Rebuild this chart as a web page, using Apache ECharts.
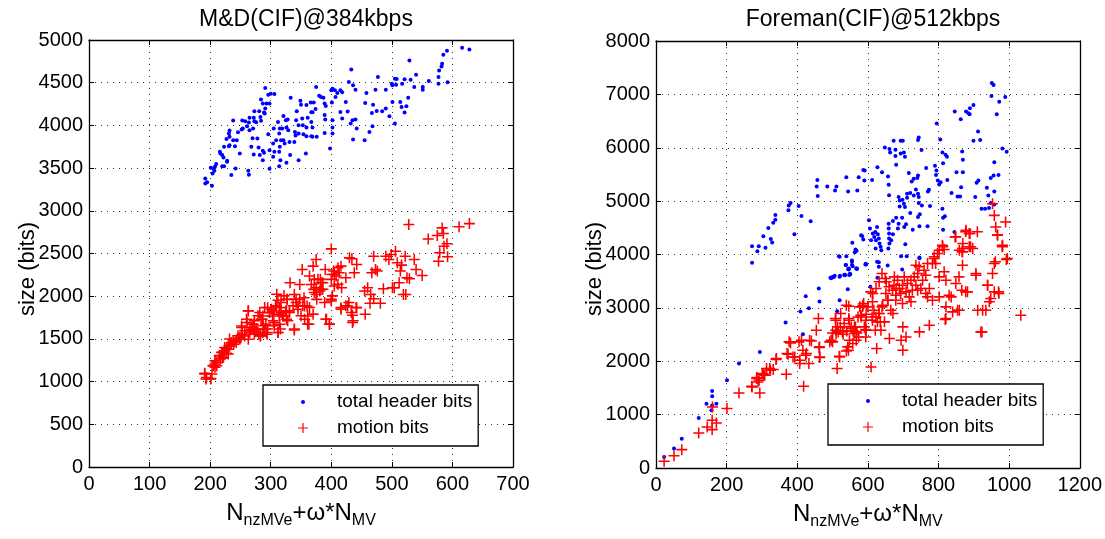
<!DOCTYPE html>
<html><head><meta charset="utf-8">
<script src="https://cdn.jsdelivr.net/npm/echarts@6/dist/echarts.min.js"></script>
<style>html,body{margin:0;padding:0;background:#fff}#c{width:1105px;height:539px}</style>
</head><body><div id="c"></div>
<script>
// ---- Data ----
const titles = ['M&D(CIF)@384kbps', 'Foreman(CIF)@512kbps'];
const seriesNames = ['total header bits', 'motion bits'];
const yLabel = 'size (bits)';
const leftXRange = [0, 700, 100];
const leftYRange = [0, 5000, 500];
const rightXRange = [0, 1200, 200];
const rightYRange = [0, 8000, 1000];

const mdHeader = [[192,3321],[195,3333],[192,3379],[203,3294],[201,3504],[205,3496],[208,3516],[204,3438],[207,3469],[210,3547],
[220,3523],[223,3523],[228,3574],[235,3418],[242,3496],[263,3469],[264,3422],[216,3691],[217,3671],[220,3652],
[222,3625],[228,3586],[223,3749],[231,3757],[232,3769],[241,3757],[249,3671],[227,3842],[232,3866],[231,3905],
[232,3940],[238,3827],[244,3827],[246,3920],[252,3951],[254,3963],[238,4056],[253,4056],[258,4049],[261,3990],
[264,4033],[265,4091],[265,3944],[270,3850],[271,3963],[273,4049],[272,4091],[276,4037],[284,4053],[283,4099],
[281,4165],[273,4165],[284,4302],[287,4255],[291,4197],[289,4150],[291,4438],[296,4360],[300,4372],[306,4368],
[293,4255],[298,4255],[290,4138],[278,3846],[268,3749],[280,3741],[272,3660],[282,3652],[287,3702],[289,3679],
[287,3593],[298,3492],[296,3897],[305,3963],[312,4041],[315,3963],[314,3905],[319,3963],[321,4111],[325,4060],
[326,3975],[328,4068],[329,3944],[309,3827],[304,3788],[306,3691],[317,3827],[321,3827],[323,3788],[314,3691],
[316,3593],[314,3523],[326,3562],[332,3652],[333,4325],[343,4165],[349,4290],[350,4243],[359,4239],[366,4267],
[371,4267],[375,4449],[367,4154],[369,4154],[374,4193],[380,4348],[383,4333],[387,4325],[389,4255],[391,4228],
[389,4123],[390,4068],[400,4411],[402,4430],[406,4411],[410,4380],[415,4411],[418,4387],[401,4267],[407,4333],
[342,4060],[352,4080],[361,4091],[367,4041],[359,3975],[369,3975],[346,4002],[353,4002],[340,3924],[341,3881],
[346,3905],[354,3897],[359,3874],[367,3874],[369,3866],[376,3866],[389,3912],[339,3807],[346,3593],[358,3671],
[331,3807],[398,3730],[402,3975],[402,3905],[402,4060],[415,4158],[418,4080],[424,4274],[427,4162],[429,4508],
[433,4656],[436,4469],[440,4418],[432,4021],[435,4060],[440,4068],[442,3963],[436,3835],[455,3827],[463,3924],
[468,3990],[467,4146],[469,4243],[456,4263],[458,4380],[473,4418],[477,4566],[475,4169],[484,4165],[490,4197],
[496,4107],[505,4021],[490,4418],[500,4488],[505,4547],[508,4543],[501,4469],[507,4477],[517,4488],[521,4539],
[529,4761],[531,4535],[540,4593],[537,4449],[551,4449],[551,4418],[561,4520],[577,4488],[577,4566],[578,4644],
[582,4691],[583,4722],[585,4827],[591,4874],[592,4504],[501,4274],[514,4274],[516,4216],[524,4224],[527,4325],
[521,4150],[616,4909],[628,4889],[298,3710],[304,3632],[315,3749]];

const mdMotion = [[191,1099],[194,1049],[201,1037],[203,1088],[205,1185],[208,1205],[211,1185],[208,1243],[216,1302],[220,1274],
[221,1341],[227,1333],[230,1380],[224,1399],[232,1418],[235,1457],[239,1438],[243,1477],[249,1516],[252,1543],
[257,1535],[263,1496],[265,1574],[268,1613],[271,1632],[274,1593],[277,1613],[280,1555],[283,1535],[287,1574],
[290,1613],[292,1671],[294,1555],[263,1827],[260,1730],[252,1652],[284,1730],[287,1769],[295,1866],[298,1808],
[303,1769],[305,1827],[309,1885],[312,1952],[315,1866],[317,1808],[321,1769],[325,1827],[327,1963],[315,1671],
[312,1574],[305,1691],[326,1730],[331,1827],[332,2158],[339,2021],[339,1605],[342,1963],[345,1885],[348,2138],
[352,2313],[355,1983],[356,1885],[360,1885],[361,1769],[363,1671],[364,2236],[367,2138],[370,2352],[371,2080],
[372,2197],[375,2430],[375,2021],[376,1963],[382,2197],[383,2080],[386,2158],[390,2313],[391,1730],[397,1671],
[400,2554],[400,2197],[400,1963],[401,2255],[404,2294],[405,2119],[408,2236],[411,2333],[413,2275],[416,2352],
[417,2099],[416,1866],[424,2216],[427,1885],[430,2449],[434,2438],[435,1777],[435,1691],[438,2275],[442,2372],
[442,1866],[455,2060],[456,1788],[460,2099],[464,1917],[465,2021],[467,2275],[470,2469],[473,2313],[476,2294],
[470,1971],[481,1917],[486,2088],[490,2469],[495,2430],[499,2488],[501,2099],[504,2099],[506,2527],[509,2391],
[512,2158],[514,2294],[516,2364],[519,2021],[523,2021],[522,2469],[525,2216],[528,2839],[529,2205],[537,2430],
[540,2313],[550,2243],[560,2671],[575,2710],[577,2410],[579,2508],[583,2800],[585,2734],[586,2585],[591,2613],
[592,2461],[611,2814],[628,2850],
[191,1090],[193,1031],[201,1031],[205,1187],[208,1167],[210,1226],[215,1304],[217,1265],[219,1342],[222,1284],
[224,1362],[227,1381],[230,1323],[231,1420],[232,1498],[235,1440],[238,1479],[243,1459],[246,1537],[249,1498],
[252,1634],[253,1556],[257,1595],[261,1693],[263,1829],[265,1595],[268,1634],[271,1673],[273,1712],[273,1556],
[276,1615],[279,1770],[282,1809],[283,1537],[286,1731],[288,1654],[290,1868],[293,1576],[295,1615],[298,1809],
[301,1848],[304,1712],[306,1654],[308,1887],[310,2023],[312,1576],[314,1790],[316,1615],[317,1926],[320,1770],
[322,2004],[326,1829],[327,1965],[328,1712],[331,1809],[337,1887],[339,1615],[342,1926],[345,1848],[348,1965],
[350,1770],[353,1887],[356,1731],[361,1673],[364,1868],[370,1790],[372,2043],[375,2101],[378,2198],[381,2062],
[383,2160],[386,2082],[389,1926],[392,1731],[397,1673],[400,1945],[402,2004],[405,2257],[411,2140],[416,1848],
[424,1887],[429,1926],[433,1809],[436,1712],[441,1868]];

const foreHeader = [[272,3845],[272,4156],[287,4063],[291,4156],[304,4342],[310,4125],[318,4497],[325,4292],[329,4224],[332,4597],
[338,4653],[338,4740],[375,4827],[376,4920],[381,4963],[392,4379],[404,4907],[412,4721],[438,4622],[457,5398],
[455,5274],[458,5094],[485,5274],[507,5199],[511,5274],[539,5448],[544,5181],[570,5199],[574,5448],[587,5584],
[591,5572],[590,5385],[612,5398],[627,5634],[640,5541],[648,6006],[657,5460],[659,5305],[660,5112],[661,5975],
[663,5913],[673,6131],[678,5963],[678,5845],[680,5683],[693,6131],[699,6131],[702,5913],[705,5833],[693,5894],
[687,5075],[690,4901],[690,5013],[698,5025],[702,4951],[705,4889],[711,5063],[711,5137],[720,5150],[730,5106],
[736,5218],[742,5137],[744,5075],[744,4963],[747,4752],[753,4920],[716,5528],[724,5367],[730,5417],[740,5435],
[742,5479],[752,5957],[742,6143],[744,6193],[765,5621],[770,5181],[773,5212],[776,4907],[790,5665],[794,5572],
[793,5491],[795,6454],[798,5385],[802,5311],[806,5355],[811,5913],[813,5708],[820,5870],[824,5833],[825,5398],
[805,6156],[811,4858],[813,4690],[818,4715],[837,5150],[846,6677],[851,5541],[854,5087],[863,6534],[861,5087],
[864,5261],[867,5932],[869,5777],[869,5541],[878,6677],[885,6646],[888,6628],[889,6739],[899,6801],[899,6131],
[912,6305],[918,6143],[904,5075],[908,5342],[913,5385],[922,4858],[932,4858],[937,5249],[941,5106],[948,5435],
[951,7211],[956,7174],[950,6969],[956,5479],[958,5727],[958,5181],[965,6628],[970,5491],[972,6863],[981,5988],
[989,6950],[993,5926],[948,4963],[958,4938],[943,4870],
[581,4361],[587,4280],[584,4342],[603,4640],[606,4485],[614,4392],[618,4330],[621,4423],[623,4268],[626,4516],
[628,4379],[631,4299],[633,4205],[636,4143],[638,4081],[622,4112],[626,3864],[631,3771],[659,4578],[659,4485],
[660,4392],[660,4299],[661,4205],[658,4112],[666,4268],[671,4379],[671,4628],[680,4690],[685,4485],[687,4578],
[697,4690],[703,4516],[708,4566],[706,4193],[694,3969],[710,3969],[720,4777],[727,4466],[742,4702],[746,4528],
[746,3944],[769,4528],[813,4466],[845,4423],[556,4218],[565,4094],[568,4069],[563,4044],[539,3969],[520,3957],
[537,3802],[546,3740],[555,3864],[555,3802],[569,3727],[595,3814],[609,4268],[520,3584],[501,3572],[496,3553],
[533,3616],[547,3616],
[23,206],[51,363],[73,550],[121,938],[143,1206],[159,1169],[159,1344],[159,1444],[157,1081],[171,1206],
[201,1644],[235,1956],[294,2175],[367,2725],[409,2931],[416,2506],[424,3219],[433,2994],[461,3363],[463,3119],
[494,3563],[504,3581],[520,3144],[518,3969],[535,3613],[543,3350],[546,3719],[550,3631],[557,3781],[567,3738],
[593,3813],[607,3394],[627,3563],[631,3856],[656,3794],[697,3719],[746,3931],[513,2938],[500,3577],[506,3600],
[521,3600],[535,3620],[549,3640],[538,3802],[544,3727],[555,3888],[569,3738],[594,3826]];

const foreMotion = [[23,125],[51,231],[73,344],[121,656],[145,769],[159,719],[159,894],[171,844],[160,1144],[201,1113],
[235,1406],[272,1519],[294,1406],[285,1675],[289,1613],[304,1756],[324,1831],[341,2050],[369,1756],[371,2144],
[377,2363],[388,2081],[407,2019],[412,2394],[416,2206],[418,1531],[426,2144],[435,2394],[454,2581],[460,2800],
[463,2269],[463,2081],[496,2394],[509,2769],[510,2519],[513,1863],[520,2081],[539,3050],[545,2206],[546,2800],
[553,2613],[557,2331],[567,2550],[572,2831],[574,2456],[586,3050],[595,2581],[609,1894],[612,2831],[614,3269],
[625,2238],[621,2581],[631,2894],[635,2738],[640,3019],[647,2738],[652,3488],[657,3144],[661,2425],[671,2894],
[675,3581],[680,3363],[694,2394],[699,2206],[699,2644],[708,2456],[746,2550],[774,2675],[783,3831],[788,3956],
[802,3206],[802,4081],[812,4144],[821,2800],[836,3206],[840,2925],[859,2956],[866,3331],[859,4081],[868,4113],
[882,3300],[887,4394],[891,4144],[906,3613],[911,2956],[923,2550],[934,2956],[939,3425],[944,3113],[948,3175],
[953,3644],[961,3863],[967,4363],[970,3300],[981,4144],[992,3906],[1033,2863],
[271,1531],[286,1694],[292,1644],[301,1769],[308,1738],[313,1863],[322,1863],[332,1844],[340,2031],[374,2131],
[381,2344],[393,2081],[405,2363],[424,2113],[407,1956],[433,1956],[440,2381],[462,2256],[464,2069],[492,2363],
[500,2531],[516,2550],[519,2094],[522,2644],[530,2506],[539,2194],[540,2569],[546,3031],[548,2394],[553,2644],
[558,2569],[562,2644],[567,2394],[569,2531],[577,3019],[581,2831],[588,3081],[593,2594],[595,2881],[600,3019],
[500,2363],[509,2581],[514,2644],[528,2550],[543,2269],[561,2519],[565,2644],[547,2769],[580,2863],[585,3019],
[590,2644],[594,2769],[608,3300],[613,3113],[617,2956],[623,2831],[627,2738],[632,2894],[637,2581],[642,3050],
[649,3550],[651,3269],[656,3144],[660,3394],[665,2956],[670,3331],[674,3425],[679,3238],[684,3519],[689,3363],
[693,3269],[698,3425],[703,3581],[708,3300],[712,3456],[717,3206],[722,3519],[726,3331],[731,3581],[736,3425],
[741,3644],[745,3769],[750,3363],[755,3519],[759,3706],[764,3613],[769,3831],[774,3363],[783,3144],[788,3925],
[792,3831],[797,4019],[802,3581],[811,4175],[816,3675],[821,3519],[821,3019],[819,2781],[816,4094],[830,3238],
[849,4331],[849,3456],[854,2956],[858,3581],[868,4050],[868,3800],[877,3300],[877,4425],[887,4144],[906,3644],
[910,4425],[920,2550],[925,2956],[939,3425],[958,3831],[958,3300],[967,4363],[971,3269],[981,4175],[995,3925],
[508,2800],[523,2894],[533,2706],[594,2456],[613,2769],[623,3363],[632,3488],[640,3644],[679,3144],[698,3081],
[722,3113],[736,3800],[764,3269],[769,3206],[741,3331],
[953,4950],[958,4733],[962,4516],[990,4610],[981,4156],[847,4330],[878,4454],[889,4392],[869,4205],[867,4051],[897,4113]];

// ---- Styling ----
const FONT = 'Liberation Sans, Arial, Helvetica, sans-serif';
const PLUS = 'path://M0,4.3H10V5.7H0Z M4.3,0H5.7V10H4.3Z';
const DOT_ICON = 'path://M0,0L0,0.01L0.01,0Z M12,12L12,11.99L11.99,12Z M4,6A2,2 0 1 1 8,6A2,2 0 1 1 4,6Z';
const PLUS_ICON = 'path://M0,0L0,0.01L0.01,0Z M12,12L12,11.99L11.99,12Z M1,5.4H11V6.6H1Z M5.4,1H6.6V11H5.4Z';
const BLUE = '#0000ff', RED = '#ff0000';
const grids = [
  {left: 89, top: 40, width: 424, height: 427},
  {left: 656, top: 41, width: 424, height: 427}
];
const xName = '{a|N}{b|nzMVe}{a|+\u03c9*N}{b|MV}';
const nameRich = {
  a: {fontSize: 24, fontFamily: FONT, color: '#000', lineHeight: 32, verticalAlign: 'middle'},
  b: {fontSize: 16, fontFamily: FONT, color: '#000', verticalAlign: 'bottom'}
};

function mainAxis(gi, r, pos, isX) {
  const ax = {
    gridIndex: gi, type: 'value', position: pos, min: r[0], max: r[1], interval: r[2],
    axisLine: {show: true, onZero: false, lineStyle: {color: '#000', width: 1.3}},
    axisTick: {show: true, inside: true, length: 5, lineStyle: {color: '#000', width: 1}},
    axisLabel: {show: true, fontSize: 20, fontFamily: FONT, color: '#000', margin: isX ? 7 : 6,
      showMinLabel: true, showMaxLabel: true, formatter: v => String(v)},
    splitLine: {show: true, lineStyle: {color: '#333', width: 1, type: [1, 5]}}
  };
  if (isX) {
    ax.name = xName; ax.nameLocation = 'middle'; ax.nameGap = 30;
    ax.nameTextStyle = {rich: nameRich};
  }
  return ax;
}
function boxAxis(gi, r, pos) {
  return {
    gridIndex: gi, type: 'value', position: pos, min: r[0], max: r[1], interval: r[2],
    axisLine: {show: true, onZero: false, lineStyle: {color: '#000', width: 1.3}},
    axisTick: {show: true, inside: true, length: 5, lineStyle: {color: '#000', width: 1}},
    axisLabel: {show: false}, splitLine: {show: false}
  };
}

function legendAt(left, top) {
  return {
    left: left, top: top, orient: 'vertical',
    data: [{name: seriesNames[0], icon: DOT_ICON}, {name: seriesNames[1], icon: PLUS_ICON}],
    backgroundColor: '#fff', borderColor: '#000', borderWidth: 1.3,
    padding: [7, 6, 8, 34], itemGap: 6, itemWidth: 12, itemHeight: 12,
    selectedMode: false,
    textStyle: {fontSize: 19, fontFamily: FONT, color: '#000', lineHeight: 20, padding: [0, 0, 0, 23]}
  };
}

const option = {
  animation: false,
  backgroundColor: '#fff',
  title: [
    {text: titles[0], left: 301, top: 3, textAlign: 'center', textStyle: {fontSize: 23, fontWeight: 'normal', fontFamily: FONT, color: '#000'}},
    {text: titles[1], left: 868, top: 3, textAlign: 'center', textStyle: {fontSize: 23, fontWeight: 'normal', fontFamily: FONT, color: '#000'}}
  ],
  grid: grids,
  xAxis: [
    mainAxis(0, leftXRange, 'bottom', true), boxAxis(0, leftXRange, 'top'),
    mainAxis(1, rightXRange, 'bottom', true), boxAxis(1, rightXRange, 'top')
  ],
  yAxis: [
    mainAxis(0, leftYRange, 'left', false), boxAxis(0, leftYRange, 'right'),
    mainAxis(1, rightYRange, 'left', false), boxAxis(1, rightYRange, 'right')
  ],
  legend: [legendAt(263, 385), legendAt(828, 384)],
  graphic: [
    {type: 'text', x: 28, y: 269, rotation: Math.PI / 2, style: {text: yLabel, font: '22px ' + FONT, fill: '#000', textAlign: 'center', textVerticalAlign: 'middle'}},
    {type: 'text', x: 595, y: 269, rotation: Math.PI / 2, style: {text: yLabel, font: '22px ' + FONT, fill: '#000', textAlign: 'center', textVerticalAlign: 'middle'}}
  ],
  series: [
    {name: seriesNames[0], type: 'scatter', xAxisIndex: 0, yAxisIndex: 0, data: mdHeader, symbol: 'circle', symbolSize: 4, itemStyle: {color: BLUE, opacity: 1}, silent: true},
    {name: seriesNames[1], type: 'scatter', xAxisIndex: 0, yAxisIndex: 0, data: mdMotion, symbol: PLUS, symbolSize: 11, itemStyle: {color: RED, opacity: 1}, silent: true},
    {name: seriesNames[0], type: 'scatter', xAxisIndex: 2, yAxisIndex: 2, data: foreHeader, symbol: 'circle', symbolSize: 4, itemStyle: {color: BLUE, opacity: 1}, silent: true},
    {name: seriesNames[1], type: 'scatter', xAxisIndex: 2, yAxisIndex: 2, data: foreMotion, symbol: PLUS, symbolSize: 11, itemStyle: {color: RED, opacity: 1}, silent: true}
  ]
};
const chart = echarts.init(document.getElementById('c'), null, {renderer: 'canvas'});
chart.setOption(option);
</script>
</body></html>
